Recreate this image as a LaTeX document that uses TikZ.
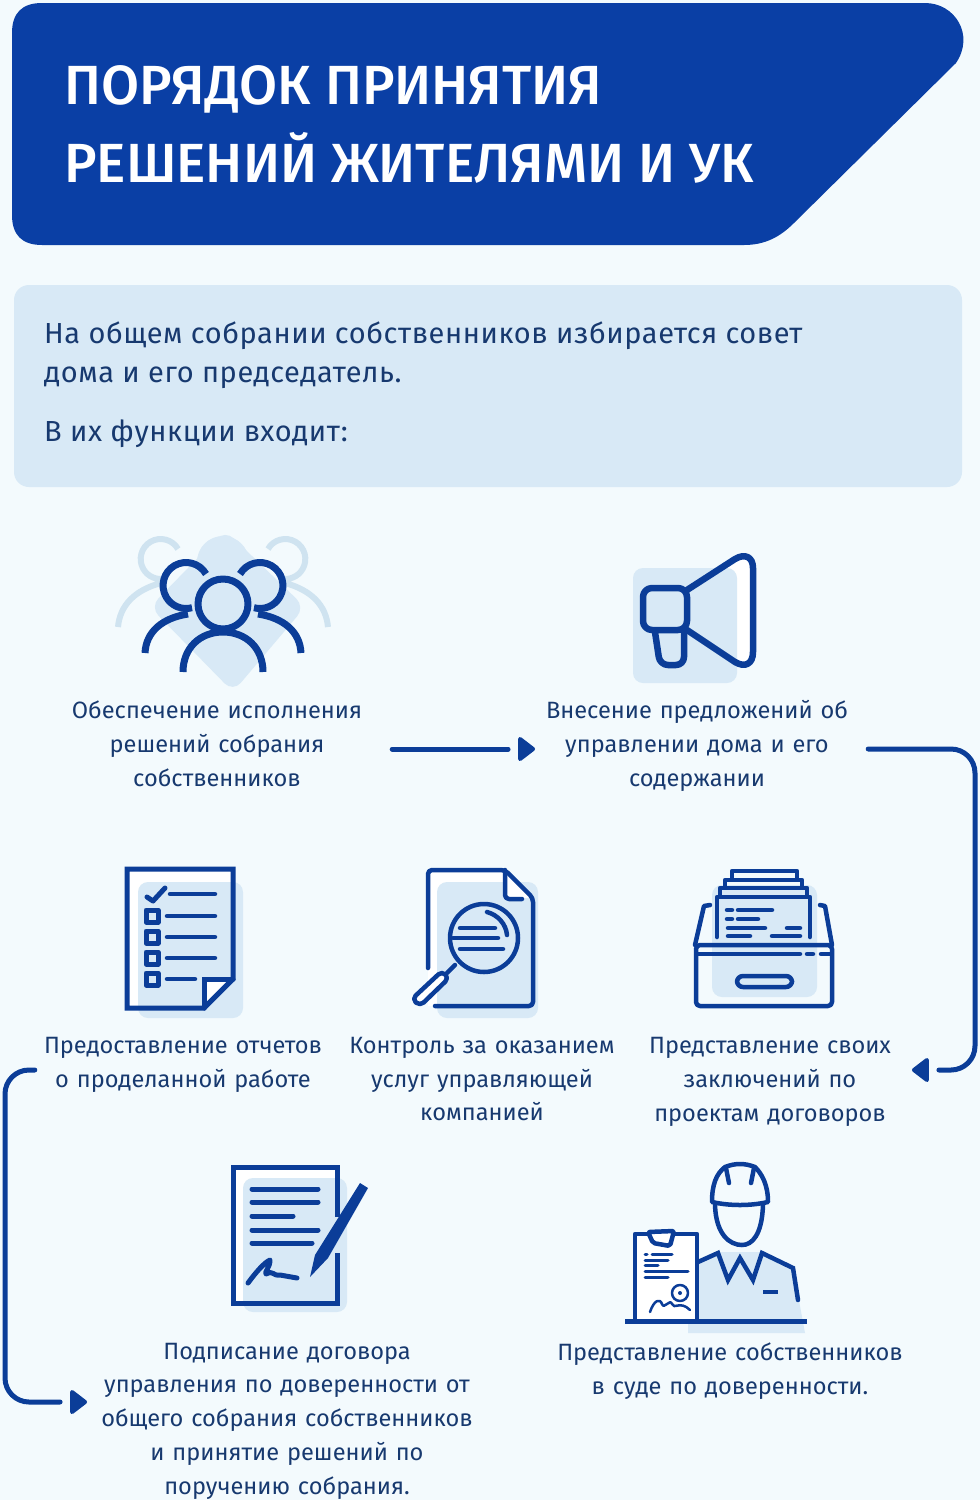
\documentclass[tikz,border=0pt]{standalone}
\usepackage{fontspec}
\setmainfont{Fira Sans}
\newfontfamily\titlefont{Fira Sans Medium}
\usetikzlibrary{calc,positioning,shapes.geometric}
\definecolor{pageblue}{HTML}{F3FAFD}
\definecolor{headblue}{HTML}{0A3FA5}
\definecolor{inkblue}{HTML}{0B3D98}
\definecolor{paleblue}{HTML}{D8E9F6}
\definecolor{backblue}{HTML}{CFE3F0}
\definecolor{textblue}{HTML}{17396F}
\tikzset{ink/.style={draw=inkblue,line width=#1,line cap=round,line join=round},ink/.default=5pt,
	pale/.style={fill=paleblue,rounded corners=10pt},
	item text/.style={inner sep=0,text=textblue,align=center,text width=#1,
		font=\fontsize{23.6}{33.8}\selectfont},
	item text/.default=340pt,
	flow/.style={draw=inkblue,line width=5pt,line cap=round,rounded corners=24pt,shorten >=12pt},
	flow tip/.style={isosceles triangle,isosceles triangle stretches,draw=inkblue,fill=inkblue,line width=4pt,line join=round,
		inner sep=0,outer sep=0,minimum width=20pt,minimum height=13pt,shape border rotate=#1},
	flow tip/.default=0}
\begin{document}
\begin{tikzpicture}[x=1pt,y=-1pt]
	\useasboundingbox (0,0) rectangle (980,1500);
	\fill[pageblue] (0,0) rectangle (980,1500);

	\fill[headblue] (42,3) -- (925,3) .. controls (955,3) and (975,35) .. (956,63) -- (794,223)
	.. controls (780,237) and (765,245) .. (744,245) -- (42,245)
	.. controls (22,245) and (12,235) .. (12,215) -- (12,33) .. controls (12,13) and (22,3) .. (42,3) -- cycle;
	\node[anchor=north west,inner sep=0,text=white,align=left,font=\fontsize{55.2}{78}\selectfont\titlefont] (title) at (64,65)
	{ПОРЯДОК ПРИНЯТИЯ\\РЕШЕНИЙ ЖИТЕЛЯМИ И УК};

	\fill[paleblue,rounded corners=15pt] (14,285) rectangle (962,487);
	\node[anchor=north west,inner sep=0,text=textblue,align=left,font=\fontsize{29}{39}\selectfont\addfontfeature{LetterSpace=2.0}] (intro) at (44,322)
	{На общем собрании собственников избирается совет\\дома и его председатель.\\[20pt]В их функции входит:};

	\node[item text] (textA) at (217,744) {Обеспечение исполнения\\решений собрания\\собственников};
	\node[item text] (textB) at (697,746) {Внесение предложений об\\управлении дома и его\\содержании};
	\node[item text=320pt] (textC) at (183,1065) {Предоставление отчетов\\о проделанной работе};
	\node[item text=280pt] (textD) at (482,1079) {Контроль за оказанием\\услуг управляющей\\компанией};
	\node[item text] (textE) at (770,1082) {Представление своих\\заключений по\\проектам договоров};
	\node[item text=420pt] (textF) at (287,1421) {Подписание договора\\управления по доверенности от\\общего собрания собственников\\и принятие решений по\\поручению собрания.};
	\node[item text=380pt] (textG) at (730,1371) {Представление собственников\\в суде по доверенности.};

	\node[flow tip] (tipB) at (525,749) {};
	\node[flow tip=180] (tipE) at (922,1070) {};
	\node[flow tip] (tipF) at (77,1402) {};
	\coordinate (cornerBa) at (975,749);
	\coordinate (cornerBb) at (975,1070);
	\coordinate (cornerCa) at (5,1070);
	\coordinate (cornerCb) at (5,1402);
	\draw[flow] ([xshift=5pt,yshift=-5pt]textA.east) -- (tipB);
	\draw[flow] ([xshift=1pt,yshift=-3pt]textB.east) -- (cornerBa) -- (cornerBb) -- (tipE);
	\draw[flow] ([xshift=12pt,yshift=-5pt]textC.west) -- (cornerCa) -- (cornerCb) -- (tipF);

	% people
	\fill[paleblue,rounded corners=12pt] (225,530) -- (305,607) -- (233,692) -- (150,607) -- cycle;
	\fill[paleblue] (223,562) circle (26pt);
	\draw[draw=backblue,line width=6pt] (178,549) arc[start angle=30,end angle=285,radius=20pt] (161,583) .. controls (135,590) and (120,605) .. (118,627);
	\draw[draw=backblue,line width=6pt] (268,549) arc[start angle=150,end angle=-105,radius=20pt] (285,583) .. controls (311,590) and (326,605) .. (328,627);
	\draw[ink=7pt,line cap=butt] (206,574) arc[start angle=30,end angle=285,radius=23pt];
	\draw[ink=7pt,line cap=butt] (240,574) arc[start angle=150,end angle=-105,radius=23pt];
	\draw[ink=7pt,line cap=butt] (188,614) .. controls (162,618) and (146,632) .. (145,653);
	\draw[ink=7pt,line cap=butt] (258,614) .. controls (284,618) and (300,632) .. (301,653);
	\draw[ink=7pt] (223,604) circle (25pt);
	\draw[ink=7pt,line cap=butt] (183,672) .. controls (183,648) and (200,632) .. (223,632) .. controls (246,632) and (263,648) .. (263,672);

	% megaphone
	\fill[white] (687,588) -- (735,557) -- (753,558) -- (753,663) -- (735,663) -- (687,632) -- cycle;
	\fill[pale] (633,568) rectangle (737,683);
	\draw[ink=6.5pt] (687,590) -- (735,559) .. controls (745,553) and (753,557) .. (753,568) -- (753,652) .. controls (753,664) and (745,668) .. (735,662) -- (687,630);
	\draw[ink=6.5pt,rounded corners=9pt] (687,588) -- (643,588) -- (643,630) -- (687,630) -- cycle;
	\draw[ink=6.5pt,rounded corners=8pt] (655,632) -- (660,665) -- (684,665) -- (684,632);

	% checklist
	\fill[white] (127,869) rectangle (233,1008);
	\fill[pale] (138,882) rectangle (243,1018);
	\fill[white] (204,1008) -- (204,979) -- (233,979) -- cycle;
	\draw[ink,line join=miter] (127,869) -- (233,869) -- (233,979) -- (204,1008) -- (127,1008) -- cycle;
	\draw[ink,line join=miter] (204,1008) -- (204,979) -- (233,979);
	\draw[ink] (147,897) -- (153,901) -- (165,888);
	\draw[ink=4.5pt] (170,894) -- (215,894);
	\foreach \row in {916,937,958} {
		\draw[ink=4.5pt] (167,\row) -- (215,\row);
		\draw[ink] (146,\row-6) rectangle (158,\row+6);
	}
	\draw[ink=4.5pt] (167,979) -- (195,979);
	\draw[ink] (146,973) rectangle (158,985);

	% magnifier
	\fill[white] (428,870) -- (505,870) -- (533,898) -- (533,1006) -- (428,1006) -- cycle;
	\fill[pale] (437,882) rectangle (538,1018);
	\fill[white] (505,870) -- (533,898) -- (505,898) -- cycle;
	\draw[ink=4.5pt,rounded corners=4pt] (428,968) -- (428,870) -- (505,870) -- (533,898) -- (533,1006) -- (435,1006);
	\draw[ink=4.5pt,rounded corners=4pt] (505,870) -- (505,899) -- (522,899);
	\draw[ink=4.5pt] (484,938) circle (34pt);
	\draw[ink=4.5pt] (455,965) -- (447,973);
	\draw[ink=4.5pt] (487,912) .. controls (498,915) and (506,924) .. (507,935);
	\draw[ink=4.5pt] (460,928) -- (495,928) (453,938) -- (498,938) (460,949) -- (503,949);
	\draw[ink=4.5pt,fill=white,rounded corners=5pt] (442,971) -- (449,978) -- (420,1006) -- (412,999) -- cycle;

	% archive drawer
	\fill[pale] (712,885) rectangle (817,997);
	\draw[ink=4.5pt] (710,905) -- (704,906) -- (695,945);
	\draw[ink=4.5pt] (820,905) -- (825,906) -- (832,945);
	\draw[ink=4.5pt] (717,937) -- (717,897) -- (810,897) -- (810,937);
	\draw[ink=4.5pt] (720,896) -- (720,888) -- (807,888) -- (807,896);
	\draw[ink=4.5pt] (725,887) -- (725,880) -- (802,880) -- (802,887);
	\draw[ink=4.5pt] (732,879) -- (732,871) -- (797,871) -- (797,879);
	\draw[ink=4.5pt] (727,910) -- (732,910) (738,910) -- (772,910) (727,919) -- (732,919) (738,919) -- (758,919);
	\draw[ink=4.5pt] (728,928) -- (765,928) (787,928) -- (800,928) (728,936) -- (750,936) (772,936) -- (800,936);
	\draw[ink=4.5pt,rounded corners=4pt] (696,945) -- (832,945) -- (832,1006) -- (696,1006) -- cycle;
	\draw[ink=4.5pt] (697,954) -- (800,954) (807,954) -- (813,954) (821,954) -- (830,954);
	\draw[ink=4.5pt,rounded corners=6pt] (737,976) rectangle (792,987);

	% contract
	\fill[white] (233,1167) rectangle (337,1303);
	\fill[pale] (243,1178) rectangle (347,1312);
	\draw[ink,line cap=butt,line join=miter] (337,1217) -- (337,1167) -- (233,1167) -- (233,1303) -- (337,1303) -- (337,1253);
	\draw[ink] (252,1189) -- (318,1189) (252,1202) -- (318,1202) (252,1216) -- (293,1216) (252,1230) -- (318,1230) (252,1243) -- (312,1243);
	\fill[inkblue] (310,1277) -- (315,1255) -- (360,1183) -- (368,1188) -- (328,1258) -- cycle;
	\draw[ink] (248,1283) .. controls (256,1272) and (265,1262) .. (270,1260) .. controls (270,1268) and (264,1272) .. (266,1274) .. controls (274,1270) and (272,1276) .. (280,1275) -- (297,1278);

	% worker
	\fill[paleblue] (688,1333) -- (688,1268) -- (720,1252) -- (762,1252) -- (793,1268) -- (805,1333) -- cycle;
	\draw[ink=4.5pt,line join=miter] (698,1262) -- (718,1253) -- (728,1280) -- (740,1258) -- (753,1280) -- (762,1253) -- (793,1268) -- (798,1300);
	\draw[ink=4.5pt,line cap=butt] (763,1292) -- (778,1292);
	\draw[ink=4.5pt] (715,1205) .. controls (716,1235) and (730,1245) .. (742,1245) .. controls (752,1245) and (762,1235) .. (763,1205);
	\draw[ink=4.5pt] (712,1202) .. controls (712,1185) and (716,1174) .. (725,1167) .. controls (735,1163) and (745,1163) .. (755,1167) .. controls (762,1174) and (768,1185) .. (768,1202) .. controls (750,1206) and (730,1206) .. (712,1202) -- cycle;
	\draw[ink=4.5pt] (726,1168) -- (729,1183) (754,1168) -- (751,1183);
	\fill[white] (635,1234) rectangle (697,1321);
	\draw[ink=4.5pt,line cap=butt] (635,1321) -- (635,1234) -- (697,1234) -- (697,1321);
	\draw[ink=4.5pt,fill=white,rounded corners=2pt] (648,1232) -- (674,1231) -- (670,1246) -- (653,1243) -- cycle;
	\draw[ink=3pt] (645,1254) -- (647,1254) (652,1254) -- (672,1254) (645,1260) -- (668,1260) (645,1265) -- (658,1265) (645,1271) -- (688,1271) (645,1277) -- (668,1277);
	\draw[ink=2.5pt] (680,1293) circle (8pt);
	\fill[inkblue] (680,1293) circle (2pt);
	\draw[ink=2.5pt] (650,1312) .. controls (654,1300) and (660,1298) .. (662,1304) .. controls (664,1310) and (670,1298) .. (672,1304) .. controls (674,1310) and (680,1300) .. (690,1310);
	\draw[ink=5pt,line cap=butt] (625,1321) -- (807,1321);
\end{tikzpicture}
\end{document}
